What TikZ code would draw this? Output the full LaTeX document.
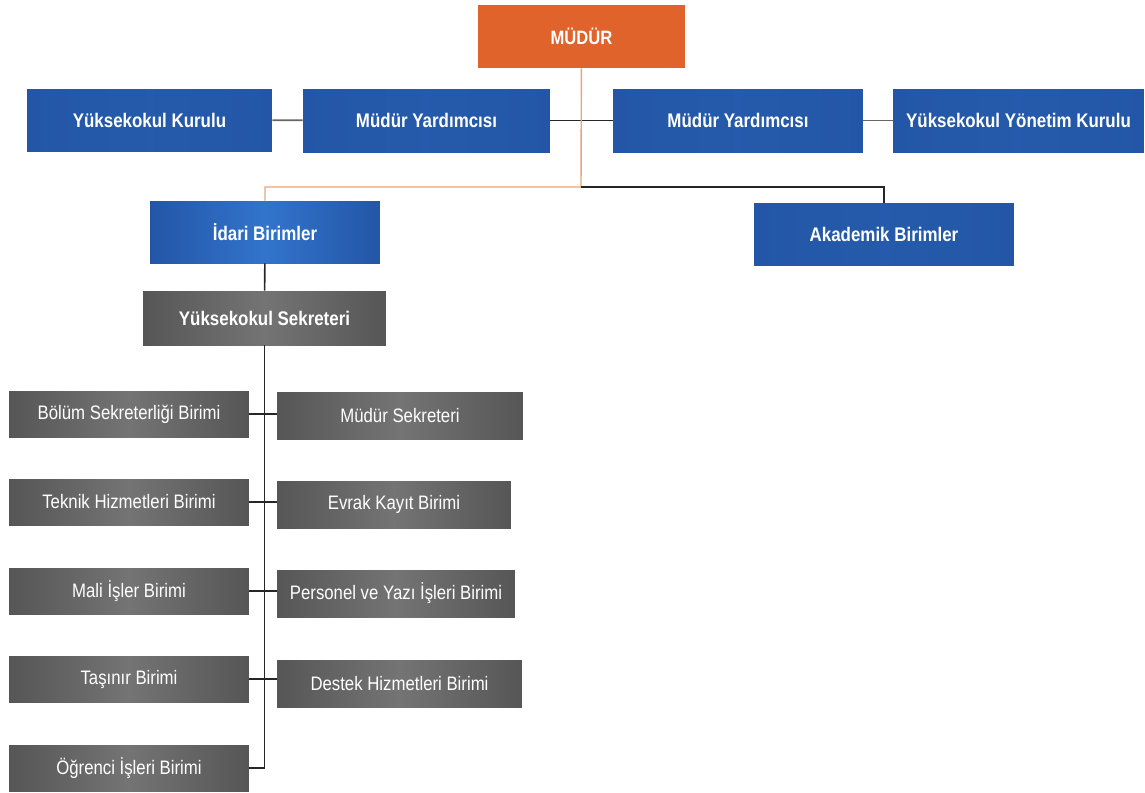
\documentclass[tikz,border=0pt]{standalone}
\usepackage{fontspec}
\setmainfont{Liberation Sans}[FakeStretch=0.86]
\definecolor{mudurorange}{HTML}{E0632B}
\definecolor{birimblue}{HTML}{2356A6}
\definecolor{birimlight}{HTML}{3274CC}
\definecolor{birimgray}{HTML}{565656}
\definecolor{graylight}{HTML}{747474}
\definecolor{orangeline}{HTML}{E9A577}
\tikzset{
  box/.style={rectangle, inner sep=0pt, text=white, align=center},
  topbox/.style={box, fill=mudurorange, font=\bfseries\fontsize{11}{13}\selectfont},
  bluebox/.style={box, left color=birimblue, right color=birimblue, middle color=birimblue!85!birimlight,
    font=\bfseries\fontsize{11.2}{13}\selectfont},
  graybox/.style={box, left color=birimgray, right color=birimgray, middle color=graylight,
    font=\fontsize{11.1}{13}\selectfont},
  link/.style={line width=0.9pt, black!85},
}
\begin{document}
\begin{tikzpicture}[x=0.02cm, y=-0.02cm]
      \useasboundingbox (0,0) rectangle (1145,792);
      % ust kademe
      \node[topbox, minimum width=4.14cm, minimum height=1.26cm] (mudur) at (581.5,36.5) {MÜDÜR};
      \node[bluebox, minimum width=4.9cm, minimum height=1.24cm] (kurul) at (149.5,120) {Yüksekokul Kurulu};
      \node[bluebox, minimum width=4.94cm, minimum height=1.26cm] (yrdA) at (426.5,120.5) {Müdür Yardımcısı};
      \node[bluebox, minimum width=5cm, minimum height=1.26cm] (yrdB) at (738,120.5) {Müdür Yardımcısı};
      \node[bluebox, minimum width=5.02cm, minimum height=1.26cm] (yonetim) at (1018.5,120.5) {Yüksekokul Yönetim Kurulu};
      \node[bluebox, middle color=birimlight, minimum width=4.6cm, minimum height=1.24cm] (idari) at (265,232) {İdari Birimler};
      \node[bluebox, minimum width=5.2cm, minimum height=1.24cm] (akademik) at (884,234) {Akademik Birimler};
      \node[graybox, font=\bfseries\fontsize{11.2}{13}\selectfont, minimum width=4.86cm, minimum height=1.08cm] (sekreter) at (264.5,318) {Yüksekokul Sekreteri};
      % idari birimler
      \node[graybox, minimum width=4.8cm, minimum height=0.92cm] (bolum) at (129,414) {Bölüm Sekreterliği Birimi};
      \node[graybox, minimum width=4.8cm, minimum height=0.92cm] (teknik) at (129,502) {Teknik Hizmetleri Birimi};
      \node[graybox, minimum width=4.8cm, minimum height=0.92cm] (mali) at (129,591) {Mali İşler Birimi};
      \node[graybox, minimum width=4.8cm, minimum height=0.92cm] (tasinir) at (129,679) {Taşınır Birimi};
      \node[graybox, minimum width=4.8cm, minimum height=0.92cm] (ogrenci) at (129,768) {Öğrenci İşleri Birimi};
      \node[graybox, minimum width=4.92cm, minimum height=0.94cm] (mudsek) at (400,415.5) {Müdür Sekreteri};
      \node[graybox, minimum width=4.68cm, minimum height=0.94cm] (evrak) at (394,504.5) {Evrak Kayıt Birimi};
      \node[graybox, minimum width=4.76cm, minimum height=0.94cm] (personel) at (396,593.5) {Personel ve Yazı İşleri Birimi};
      \node[graybox, minimum width=4.9cm, minimum height=0.94cm] (destek) at (399.5,683.5) {Destek Hizmetleri Birimi};
      % baglantilar
      \coordinate (kol) at (581,187);
      \draw[link, black!60] (kurul) -- (yrdA);
      \draw[link, black!60] (yrdB) -- (yonetim);
      \draw[link] (yrdA) -- (yrdB);
      \draw[orangeline, line width=0.8pt] (mudur) -- (kol) -| (idari);
      \draw[link] (kol) -| (akademik);
      \draw[link] (idari) -- (sekreter);
      \draw[link] (sekreter.south) -- (sekreter.south |- ogrenci.east) -- (ogrenci.east);
      \foreach \l/\r in {bolum/mudsek, teknik/evrak, mali/personel, tasinir/destek}
        \draw[link] (\l.east) -- (\l.east -| \r.west);
    \end{tikzpicture}
\end{document}
